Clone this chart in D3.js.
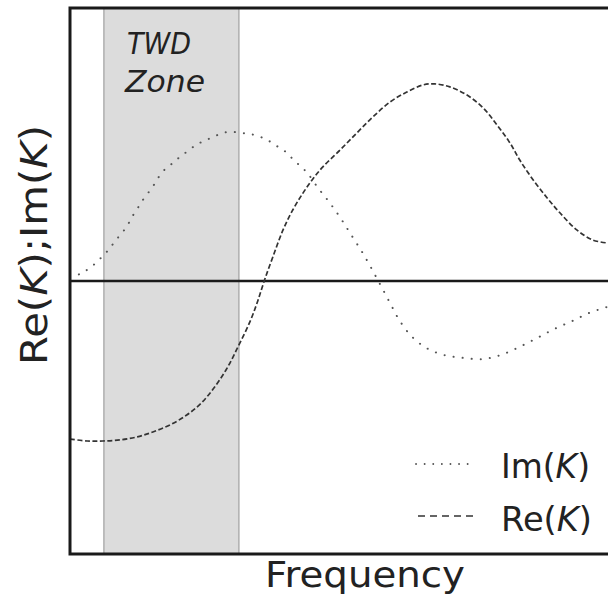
<!DOCTYPE html>
<html>
<head>
<meta charset="utf-8">
<script src="https://cdn.jsdelivr.net/npm/d3@7"></script>
<style>
  html, body { margin: 0; padding: 0; background: #fff; }
  svg { display: block; }
  text { font-family: "DejaVu Sans", sans-serif; fill: #222; }
</style>
</head>
<body>
<script>
// ---- data (frequency in arbitrary units 0..100, response in arbitrary units -100..100) ----
const imFreq = [0, 1.9, 3.4, 4.8, 6.1, 7.3, 8.4, 9.5, 10.6, 11.5, 12.5, 13.4, 14.5, 15.6, 16.5, 17.7, 19.1, 20.4, 21.9, 23.4, 24.9, 26.6, 28.3, 30.1, 32.0, 33.6, 35.5, 37.0, 38.7, 40.1, 41.4, 42.8, 44.1, 46.1, 48.3, 50.4, 52.4, 54.3, 56.1, 57.8, 59.5, 61.2, 63.4, 66.2, 69.5, 73.2, 76.8, 80.1, 83.5, 86.8, 90.0, 93.3, 96.5, 100];
const imValues = [1.5, 2.6, 4.4, 6.6, 9.2, 11.7, 14.7, 17.2, 20.1, 23.4, 26.4, 29.3, 32.2, 35.2, 38.1, 41.0, 43.2, 45.4, 47.6, 49.8, 51.3, 52.7, 54.2, 54.6, 54.2, 53.8, 52.7, 51.3, 49.1, 47.3, 44.7, 42.1, 39.6, 34.1, 28.6, 22.7, 16.5, 10.6, 4.4, -1.8, -8.1, -14.3, -20.1, -24.5, -27.1, -28.2, -28.6, -27.1, -24.2, -20.9, -17.6, -14.7, -11.7, -9.4];

const reFreq = [0, 3.2, 6.1, 9.3, 12.5, 15.4, 18.6, 21.7, 24.2, 26.6, 29.2, 31.4, 33.5, 34.9, 36.1, 37.7, 39.6, 41.4, 43.3, 45.0, 47.0, 50.2, 53.3, 56.3, 59.5, 62.6, 65.6, 67.8, 70.6, 73.8, 76.8, 79.4, 81.8, 83.6, 86.1, 88.7, 91.1, 94.2, 97.2, 100];
const reValues = [-57.9, -58.6, -58.6, -58.2, -57.1, -55.3, -52.7, -49.1, -45.1, -39.6, -31.9, -23.4, -14.7, -7.3, 0, 8.8, 18.7, 26.0, 32.2, 37.0, 41.8, 48.0, 54.2, 60.1, 65.6, 69.2, 71.8, 72.2, 71.1, 68.1, 63.4, 57.1, 50.5, 44.3, 37.0, 30.4, 24.9, 18.7, 15.0, 13.9];

const twdZone = [6.3, 31.4];            // shaded frequency band
const xDomain = [0, 100];
const yDomain = [-100, 100];
const seriesLabels = ["Im", "Re"];
const axisLabels = { x: "Frequency", yPre: "Re(", yMid: ");Im(", yPost: ")" };

// ---- layout ----
const W = 608, H = 596;
const plot = { left: 70, top: 8, right: 668, bottom: 554 };

const x = d3.scaleLinear().domain(xDomain).range([plot.left, plot.left + 538]);
const y = d3.scaleLinear().domain(yDomain).range([plot.bottom, plot.top]);

const svg = d3.select("body").append("svg").attr("width", W).attr("height", H);

// TWD zone
svg.append("rect")
  .attr("x", x(twdZone[0])).attr("y", plot.top)
  .attr("width", x(twdZone[1]) - x(twdZone[0]))
  .attr("height", plot.bottom - plot.top)
  .attr("fill", "#dcdcdc").attr("stroke", "#a0a0a0").attr("stroke-width", 1.2);

// TWD text
const twd = svg.append("g").attr("font-style", "italic").attr("font-size", 31);
twd.append("text").attr("x", 127).attr("y", 54).text("TWD")
  .attr("textLength", 64).attr("lengthAdjust", "spacingAndGlyphs");
twd.append("text").attr("x", 125).attr("y", 92).text("Zone")
  .attr("textLength", 80).attr("lengthAdjust", "spacingAndGlyphs");

// zero line
svg.append("line")
  .attr("x1", plot.left).attr("x2", W + 10)
  .attr("y1", y(0)).attr("y2", y(0))
  .attr("stroke", "#1a1a1a").attr("stroke-width", 2.6);

const line = d3.line().x(d => x(d[0])).y(d => y(d[1])).curve(d3.curveCatmullRom.alpha(0.5));

const imData = imFreq.map((f, i) => [f, imValues[i]]);
const reData = reFreq.map((f, i) => [f, reValues[i]]);

svg.append("path").datum(imData).attr("d", line)
  .attr("fill", "none").attr("stroke", "#555").attr("stroke-width", 2)
  .attr("stroke-linecap", "round").attr("stroke-dasharray", "0.1,9");

svg.append("path").datum(reData).attr("d", line)
  .attr("fill", "none").attr("stroke", "#333").attr("stroke-width", 1.7)
  .attr("stroke-dasharray", "5,2.5");

// frame
svg.append("rect")
  .attr("x", plot.left).attr("y", plot.top)
  .attr("width", plot.right - plot.left).attr("height", plot.bottom - plot.top)
  .attr("fill", "none").attr("stroke", "#1a1a1a").attr("stroke-width", 3);

// legend
const legend = svg.append("g");
legend.append("line").attr("x1", 416).attr("x2", 476).attr("y1", 464).attr("y2", 464)
  .attr("stroke", "#555").attr("stroke-width", 1.8).attr("stroke-linecap", "round")
  .attr("stroke-dasharray", "0.1,8.5");
legend.append("line").attr("x1", 418).attr("x2", 476).attr("y1", 516).attr("y2", 516)
  .attr("stroke", "#333").attr("stroke-width", 1.7).attr("stroke-dasharray", "7,5");

function kLabel(g, xPos, yPos, name, len) {
  const t = g.append("text").attr("x", xPos).attr("y", yPos).attr("font-size", 34)
    .attr("textLength", len).attr("lengthAdjust", "spacingAndGlyphs");
  t.append("tspan").text(name + "(");
  t.append("tspan").attr("font-style", "italic").text("K");
  t.append("tspan").text(")");
  return t;
}
kLabel(legend, 501, 478, seriesLabels[0], 89);
kLabel(legend, 501, 531, seriesLabels[1], 91);

// x axis label
svg.append("text").attr("x", 365).attr("y", 587).attr("text-anchor", "middle")
  .attr("font-size", 36).attr("textLength", 200).attr("lengthAdjust", "spacingAndGlyphs")
  .text(axisLabels.x);

// y axis label
const yl = svg.append("text")
  .attr("transform", "translate(47,245) rotate(-90)")
  .attr("text-anchor", "middle").attr("font-size", 37)
  .attr("textLength", 240).attr("lengthAdjust", "spacingAndGlyphs");
yl.append("tspan").text(axisLabels.yPre);
yl.append("tspan").attr("font-style", "italic").text("K");
yl.append("tspan").text(axisLabels.yMid);
yl.append("tspan").attr("font-style", "italic").text("K");
yl.append("tspan").text(axisLabels.yPost);
</script>
</body>
</html>
